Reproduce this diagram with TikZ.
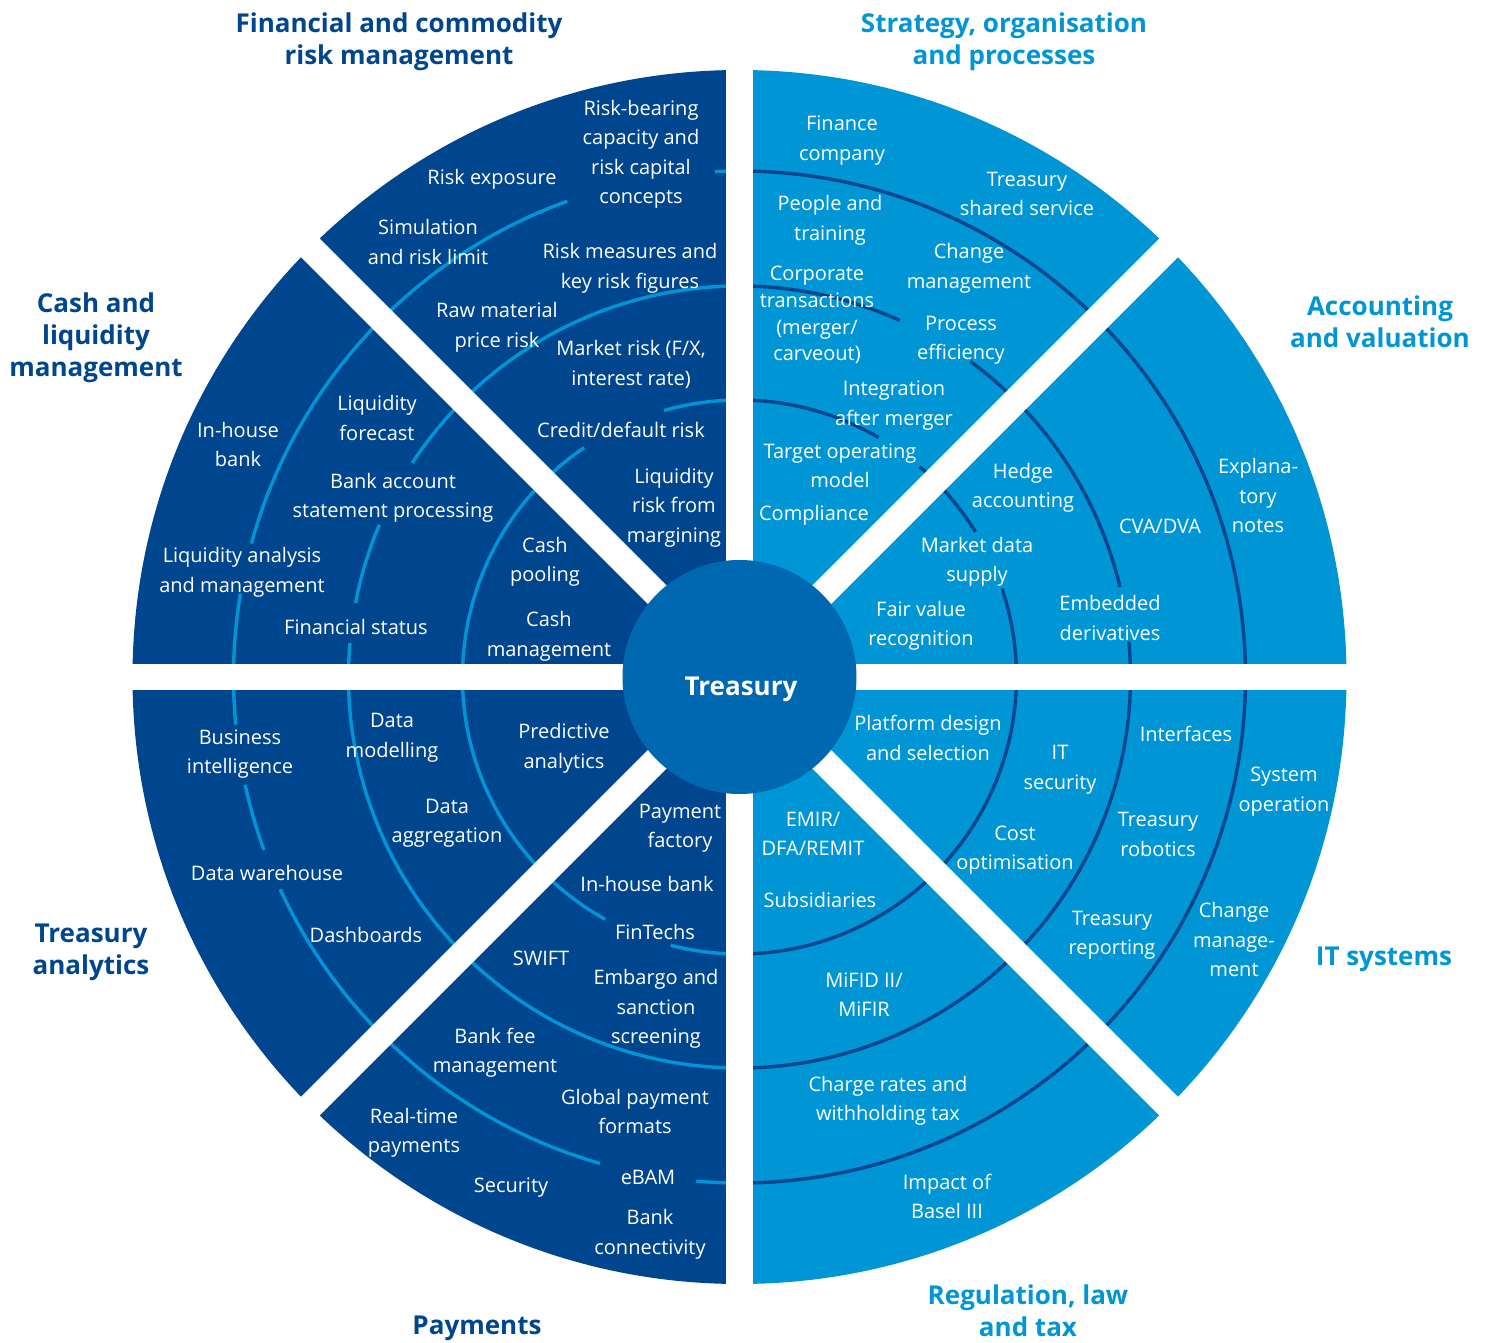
\documentclass[tikz,border=0pt]{standalone}
\usepackage{fontspec}
\setmainfont{Open Sans}
\usetikzlibrary{positioning}
\definecolor{wheeldark}{HTML}{00468E}
\definecolor{wheellight}{HTML}{0096D6}
\definecolor{wheelhub}{HTML}{0067B1}

\begin{document}
\begin{tikzpicture}[x=1pt, y=1pt,
		topic/.style={text=white, align=center, inner sep=0pt, yshift=-3, font=\fontsize{20}{29.5}\selectfont},
		tighttopic/.style={topic, font=\fontsize{20}{26.7}\selectfont},
		headdark/.style={text=wheeldark, align=center, inner sep=0pt, yshift=-3, font=\fontsize{26}{32}\selectfont\bfseries},
		headlight/.style={headdark, text=wheellight},
		ringdark/.style={wheellight, line width=3.4},
		ringlight/.style={wheeldark, line width=3.4},
		gapline/.style={white, line width=26.5}]
	\useasboundingbox (-739.5,-665) rectangle (748.5,677);
	\fill[wheeldark] (0,0) -- (90:607) arc[start angle=90, end angle=270, radius=607] -- cycle;
	\fill[wheellight] (0,0) -- (-90:607) arc[start angle=-90, end angle=90, radius=607] -- cycle;
	\foreach \r/\a/\b in {277/90/105.8, 277/124.1/241, 277/255.6/270, 391/90/146.8, 391/157.1/169.1, 391/175/270,
			506/90/92.8, 506/109.9/164.7, 506/170.5/185.4, 506/192.3/200, 506/204.8/254, 506/265.1/270}
		\draw[ringdark] (\a:\r) arc[start angle=\a, end angle=\b, radius=\r];
	\foreach \r/\a/\b in {277/-90/18.6, 277/31.6/49.4, 277/59.9/90, 391/-90/5.2, 391/13.3/53.8, 391/65.8/90, 506/-90/90}
		\draw[ringlight] (\a:\r) arc[start angle=\a, end angle=\b, radius=\r];
	\foreach \a in {0,45,90,135}
		\draw[gapline] (\a:625) -- (\a:-625);
	\node[circle, fill=wheelhub, minimum size=234, inner sep=0pt] (hub) at (0,0) {};
	\node[anchor=base, text=white, font=\fontsize{26}{32}\selectfont\bfseries] (hub_text) at (1.5,-18) {Treasury};

	\node[topic] (risk_capital) at (-98.5,525.5) {Risk-bearing\\capacity and\\risk capital\\concepts};
	\node[topic] (risk_exposure) at (-247.5,501) {Risk exposure};
	\node[topic] (simulation) at (-311.5,438) {Simulation\\and risk limit};
	\node[topic] (risk_measures) at (-109.5,411.5) {Risk measures and\\key risk figures};
	\node[topic] (raw_material) at (-242.5,352.5) {Raw material\\price risk};
	\node[topic] (market_risk) at (-108.5,315.5) {Market risk (F/X,\\interest rate)};
	\node[topic] (credit_risk) at (-118.5,250) {Credit/default risk};
	\node[topic] (margining) at (-65.5,172.5) {Liquidity\\risk from\\margining};

	\node[topic] (finance_company) at (102.5,539.5) {Finance\\company};
	\node[topic] (shared_service) at (287.5,486) {Treasury\\shared service};
	\node[topic] (people) at (90.5,459.5) {People and\\training};
	\node[topic] (change_process) at (229.5,411.5) {Change\\management};
	\node[tighttopic] (corporate) at (77.5,365) {Corporate\\transactions\\(merger/\\carveout)};
	\node[topic] (process) at (221.5,339.5) {Process\\efficiency};
	\node[topic] (integration) at (154.5,274.5) {Integration\\after merger};
	\node[topic] (target_model) at (100.5,214) {Target operating\\model};
	\node[topic] (compliance) at (74.5,165) {Compliance};

	\node[topic] (inhouse_cash) at (-501.5,235.5) {In-house\\bank};
	\node[topic] (liq_forecast) at (-362.5,262) {Liquidity\\forecast};
	\node[topic] (bank_account) at (-346.5,182) {Bank account\\statement processing};
	\node[topic] (liq_analysis) at (-497.5,107.5) {Liquidity analysis\\and management};
	\node[topic] (fin_status) at (-383.5,53) {Financial status};
	\node[topic] (cash_pooling) at (-194.5,118) {Cash\\pooling};
	\node[topic] (cash_mgmt) at (-190.5,43.5) {Cash\\management};

	\node[topic] (explanatory) at (518.5,184.5) {Explana-\\tory\\notes};
	\node[topic] (cva) at (420.5,154) {CVA/DVA};
	\node[topic] (hedge) at (283.5,192) {Hedge\\accounting};
	\node[topic] (market_data) at (237.5,118) {Market data\\supply};
	\node[topic] (fair_value) at (181.5,54) {Fair value\\recognition};
	\node[topic] (embedded) at (370.5,62) {Embedded\\derivatives};

	\node[topic] (business_intel) at (-499.5,-74) {Business\\intelligence};
	\node[topic] (data_modelling) at (-347.5,-58) {Data\\modelling};
	\node[topic] (predictive) at (-175.5,-68.5) {Predictive\\analytics};
	\node[topic] (data_aggregation) at (-292.5,-143.5) {Data\\aggregation};
	\node[topic] (data_warehouse) at (-472.5,-193) {Data warehouse};
	\node[topic] (dashboards) at (-373.5,-255) {Dashboards};

	\node[topic] (platform) at (188.5,-58) {Platform design\\and selection};
	\node[topic] (it_security) at (320.5,-90) {IT\\security};
	\node[topic] (interfaces) at (446.5,-54) {Interfaces};
	\node[topic] (system_operation) at (544.5,-111.5) {System\\operation};
	\node[topic] (cost) at (275.5,-170) {Cost\\optimisation};
	\node[topic] (robotics) at (418.5,-154.5) {Treasury\\robotics};
	\node[topic] (reporting) at (372.5,-255.5) {Treasury\\reporting};
	\node[topic] (change_it) at (494.5,-259.5) {Change\\manage-\\ment};

	\node[topic] (payment_factory) at (-59.5,-148.5) {Payment\\factory};
	\node[topic] (inhouse_pay) at (-92.5,-204) {In-house bank};
	\node[topic] (fintechs) at (-84.5,-252) {FinTechs};
	\node[topic] (swift) at (-198.5,-278) {SWIFT};
	\node[topic] (embargo) at (-83.5,-329) {Embargo and\\sanction\\screening};
	\node[topic] (bank_fee) at (-244.5,-372.5) {Bank fee\\management};
	\node[topic] (global_payment) at (-104.5,-431.5) {Global payment\\formats};
	\node[topic] (realtime) at (-325.5,-453) {Real-time\\payments};
	\node[topic] (security) at (-228.5,-508) {Security};
	\node[topic] (ebam) at (-91.5,-497) {eBAM};
	\node[topic] (connectivity) at (-89.5,-554.5) {Bank\\connectivity};

	\node[topic] (emir) at (73.5,-154) {EMIR/\\DFA/REMIT};
	\node[topic] (subsidiaries) at (80.5,-220) {Subsidiaries};
	\node[topic] (mifid) at (124.5,-314.5) {MiFID II/\\MiFIR};
	\node[topic] (charge_rates) at (148.5,-421) {Charge rates and\\withholding tax};
	\node[topic] (basel) at (207.5,-516.5) {Impact of\\Basel III};

	\node[headdark] (title_risk) at (-340.5,638) {Financial and commodity\\risk management};
	\node[headlight] (title_strategy) at (264.5,638) {Strategy, organisation\\and processes};
	\node[headdark] (title_cash) at (-643.5,342) {Cash and\\liquidity\\management};
	\node[headlight] (title_accounting) at (640.5,358) {Accounting\\and valuation};
	\node[headdark] (title_analytics) at (-648.5,-272) {Treasury\\analytics};
	\node[headlight] (title_it) at (644.5,-279) {IT systems};
	\node[headdark] (title_payments) at (-262.5,-648) {Payments};
	\node[headlight] (title_regulation) at (288.5,-631) {Regulation, law\\and tax};
\end{tikzpicture}
\end{document}
